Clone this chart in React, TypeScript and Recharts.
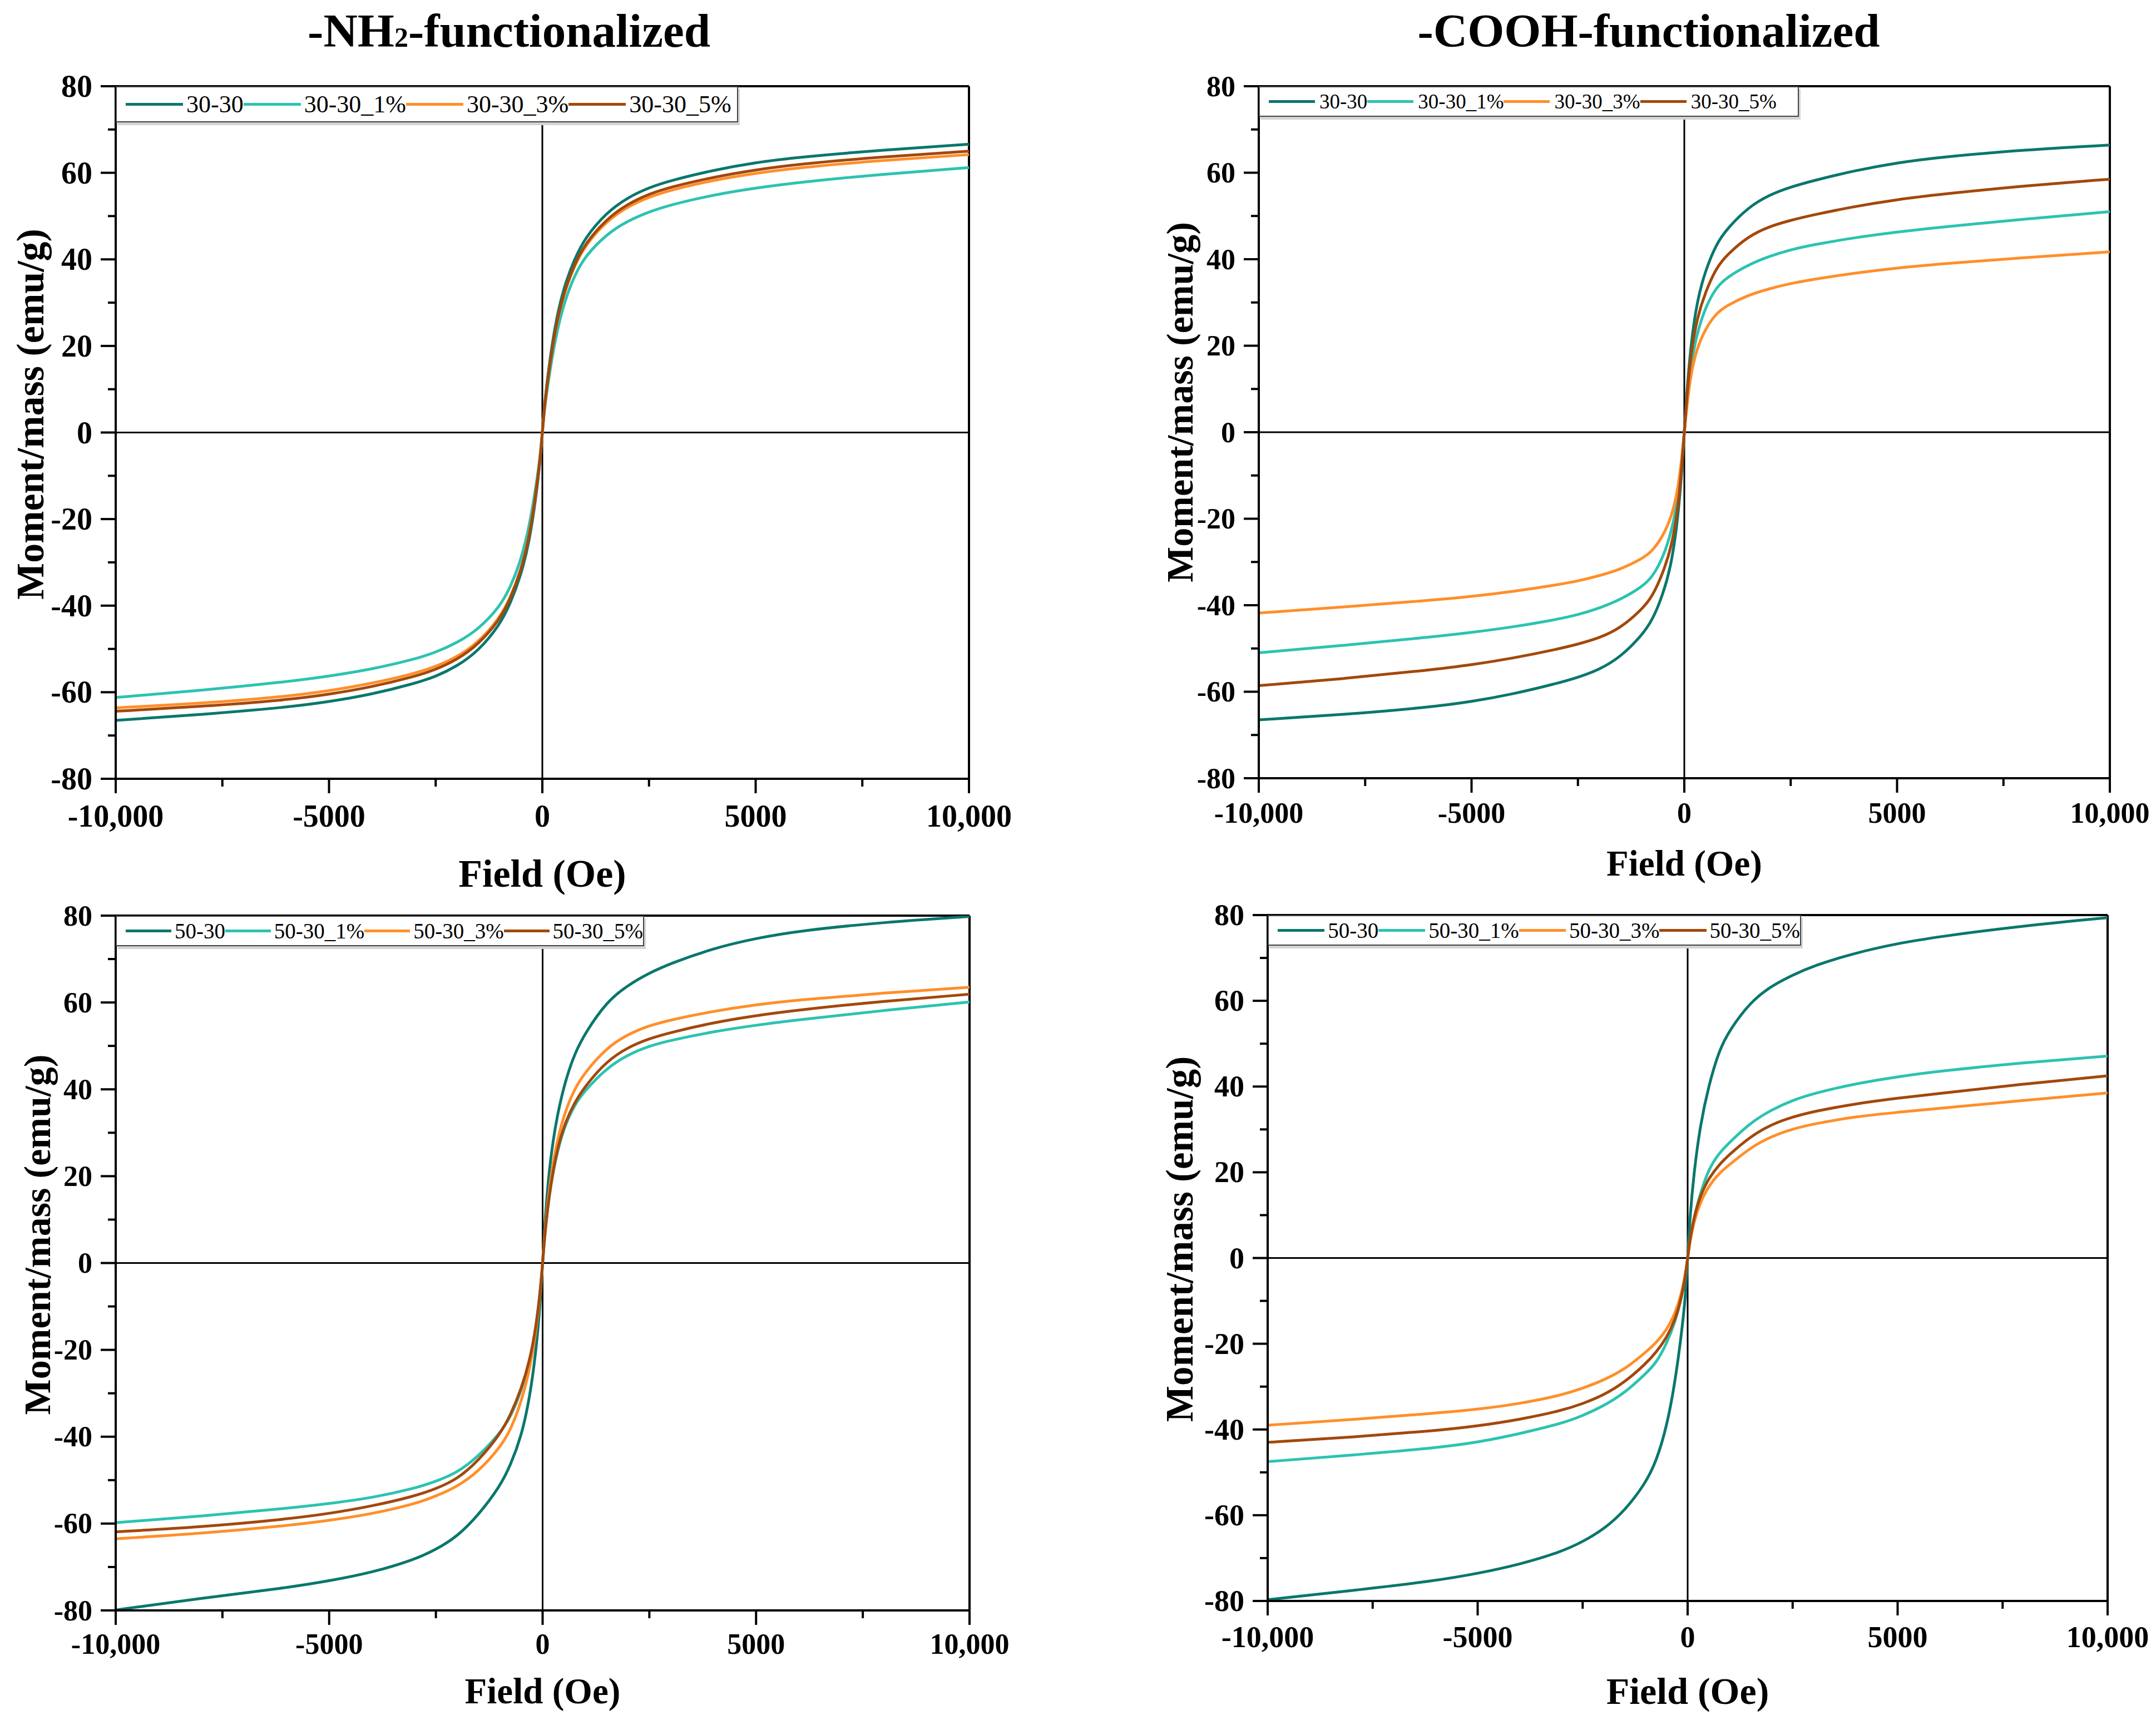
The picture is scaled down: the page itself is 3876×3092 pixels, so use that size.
// Four M(H) magnetisation loops (NH2 / COOH functionalised, 30-30 and 50-30
// series), laid out as a 2x2 grid like the original figure.

import React from "react";
import { Line, LineChart, ReferenceLine, XAxis, YAxis } from "recharts";

const SERIF = '"Liberation Serif", "Times New Roman", serif';

// Applied field (Oe), shared by every curve.
const FIELD = [
  -10000, -8000, -6000, -5000, -4000, -3000, -2500, -2000, -1500, -1000, -750,
  -500, -300, -150, -50, 0, 50, 150, 300, 500, 750, 1000, 1500, 2000, 2500,
  3000, 4000, 5000, 6000, 8000, 10000,
];

const X_TICKS = [-10000, -7500, -5000, -2500, 0, 2500, 5000, 7500, 10000];
const X_LABELED = [-10000, -5000, 0, 5000, 10000];
const X_LABELS = ["-10,000", "-5000", "0", "5000", "10,000"];
const Y_TICKS = [-80, -70, -60, -50, -40, -30, -20, -10, 0, 10, 20, 30, 40, 50, 60, 70, 80];
const Y_LABELED = [-80, -60, -40, -20, 0, 20, 40, 60, 80];

const NAMES_30 = ["30-30", "30-30_1%", "30-30_3%", "30-30_5%"];
const NAMES_50 = ["50-30", "50-30_1%", "50-30_3%", "50-30_5%"];
const COLORS = ["#0a776c", "#2cc3b0", "#ff8f2a", "#a3480c"];

// -NH2-functionalized, 30-30 family
const NH2_30_30 = [-66.5, -65.2, -63.5, -62.2, -60.5, -58, -56.4, -54, -50.5, -44.5, -39.5, -33, -25, -15, -6.5, 0, 6.5, 15, 25, 33.5, 40, 45, 50.8, 54.3, 56.6, 58.2, 60.6, 62.4, 63.6, 65.3, 66.6];
const NH2_30_1 = [-61.2, -59.6, -57.6, -56.3, -54.7, -52.4, -50.8, -48.6, -45.5, -40.3, -35.8, -29.5, -21.5, -12.5, -5.5, 0, 5.5, 12.5, 21.5, 29.8, 36.2, 40.7, 45.8, 48.9, 51, 52.6, 54.9, 56.5, 57.8, 59.7, 61.2];
const NH2_30_3 = [-63.6, -62.6, -61, -59.7, -58, -55.7, -54.1, -51.9, -48.5, -42.9, -38.2, -31.8, -23.8, -14, -6, 0, 6, 14, 23.8, 32, 38.5, 43.2, 48.8, 52.2, 54.4, 56, 58.3, 59.9, 61.2, 62.9, 64.2];
const NH2_30_5 = [-64.4, -63.3, -61.8, -60.5, -58.8, -56.4, -54.8, -52.5, -49, -43.3, -38.5, -32, -24, -14, -6, 0, 6, 14, 24, 32.3, 38.8, 43.6, 49.3, 52.8, 55.1, 56.7, 59, 60.7, 62, 63.7, 65];

// -COOH-functionalized, 30-30 family
const COOH_30_30 = [-66.5, -65.3, -63.6, -62.3, -60.5, -58.1, -56.7, -54.9, -52, -47, -43.5, -37.5, -30.5, -20, -8, 0, 8, 20, 30.5, 37.5, 43.5, 47, 52, 54.9, 56.7, 58.1, 60.5, 62.3, 63.6, 65.3, 66.4];
const COOH_30_1 = [-51, -49.3, -47.4, -46.3, -45, -43.3, -42.2, -40.7, -38.7, -35.8, -33.5, -29, -23, -15.5, -6, 0, 6, 15.5, 23, 29, 33.5, 35.8, 38.7, 40.7, 42.2, 43.3, 45, 46.3, 47.4, 49.3, 51];
const COOH_30_3 = [-41.8, -40.4, -38.9, -38, -36.8, -35.3, -34.4, -33.2, -31.7, -29.3, -27.5, -24, -19.5, -13.5, -5, 0, 5, 13.5, 19.5, 24, 27.5, 29.3, 31.7, 33.2, 34.4, 35.3, 36.8, 38, 38.9, 40.4, 41.7];
const COOH_30_5 = [-58.6, -57, -55, -53.8, -52.2, -50.2, -49, -47.6, -45.3, -41, -38, -32.5, -26.5, -18, -7, 0, 7, 18, 26.5, 32.5, 38, 41, 45.3, 47.6, 49, 50.2, 52.2, 53.8, 55, 57, 58.5];

// -NH2-functionalized, 50-30 family
const NH2_50_30 = [-79.9, -77.2, -74.8, -73.2, -71.3, -68.3, -66, -63, -58, -51.5, -46.5, -40, -31, -20, -8.5, 0, 9, 21.5, 32, 41, 48.3, 53, 60.2, 64, 66.8, 69, 72.5, 74.8, 76.5, 78.5, 79.8];
const NH2_50_1 = [-59.8, -58.3, -56.5, -55.4, -54.1, -51.9, -50.3, -48.3, -44.5, -39.2, -35.5, -29.5, -22.5, -14.5, -6, 0, 6.5, 15.5, 24, 31.2, 36.5, 39.8, 44.9, 48, 50, 51.3, 53.3, 54.8, 56, 58.2, 60.1];
const NH2_50_3 = [-63.5, -62.3, -60.5, -59.3, -57.8, -55.5, -53.7, -51.5, -48, -42.5, -38.5, -32, -24.5, -15.5, -6.5, 0, 7, 17, 26.5, 34.3, 40.2, 44, 49.6, 52.7, 54.7, 56, 58, 59.5, 60.6, 62.2, 63.5];
const NH2_50_5 = [-61.9, -60.8, -59, -57.7, -56, -53.7, -52, -49.8, -45.5, -39.5, -35, -29, -22.5, -14.5, -6, 0, 6.5, 15.5, 24.5, 31.8, 37, 40.8, 46.5, 49.7, 51.7, 53.1, 55.4, 57, 58.3, 60.3, 61.9];

// -COOH-functionalized, 50-30 family
const COOH_50_30 = [-79.7, -77.6, -75.3, -73.6, -71.5, -68.5, -66.2, -63.3, -59, -52.5, -47.5, -39.5, -29, -18, -9, 0, 9, 20, 31, 40.2, 48.5, 53.2, 59.8, 63.5, 66, 68.2, 71.2, 73.4, 75, 77.5, 79.4];
const COOH_50_1 = [-47.5, -46, -44.3, -43, -41, -38.6, -36.8, -34.5, -31.5, -27, -24.5, -20, -15, -9.5, -4, 0, 4, 9.5, 15, 20.8, 24.5, 27, 31.6, 34.6, 36.8, 38.4, 40.7, 42.3, 43.6, 45.6, 47.1];
const COOH_50_3 = [-39, -37.7, -36.2, -35.3, -34, -32, -30.4, -28.5, -26, -22, -19.8, -16.8, -13, -8.5, -3.5, 0, 3.5, 8.5, 13, 16.8, 19.8, 21.8, 25.8, 28.4, 30.1, 31.3, 33, 34, 34.9, 36.8, 38.5];
const COOH_50_5 = [-43, -41.8, -40.3, -39.2, -37.7, -35.6, -34, -32, -29, -24.7, -22, -18.6, -14.5, -9.5, -4, 0, 4, 9.5, 14.5, 18.6, 21.8, 24.2, 28.4, 31.2, 32.9, 34.2, 36, 37.3, 38.4, 40.6, 42.5];

interface PanelSpec {
  plot: { l: number; t: number; r: number; b: number };
  names: string[];
  series: number[][];
  padR: number;
  tickFont: number;
  xTickDy: number;
  yTitleX: number;
  yTitleDy: number;
  yTitleFont: number;
  xTitleDy: number;
  xTitleFont: number;
  legend: { w: number; h: number; font: number; lineW: number; pad: number; gap: number };
}

const PANELS: PanelSpec[] = [
  {
    plot: { l: 208, t: 155, r: 1742, b: 1400 },
    names: NAMES_30,
    series: [NH2_30_30, NH2_30_1, NH2_30_3, NH2_30_5],
    padR: 110, tickFont: 56, xTickDy: 67,
    yTitleX: 54, yTitleDy: -33, yTitleFont: 70, xTitleDy: 170, xTitleFont: 70,
    legend: { w: 1119, h: 65, font: 44, lineW: 103, pad: 16, gap: 6 },
  },
  {
    plot: { l: 2263, t: 155, r: 3793, b: 1399 },
    names: NAMES_30,
    series: [COOH_30_30, COOH_30_1, COOH_30_3, COOH_30_5],
    padR: 80, tickFont: 52, xTickDy: 62,
    yTitleX: 2121, yTitleDy: -54, yTitleFont: 68, xTitleDy: 153, xTitleFont: 65,
    legend: { w: 971, h: 55, font: 37, lineW: 83, pad: 16, gap: 8 },
  },
  {
    plot: { l: 208, t: 1646, r: 1743, b: 2895 },
    names: NAMES_50,
    series: [NH2_50_30, NH2_50_1, NH2_50_3, NH2_50_5],
    padR: 110, tickFont: 52, xTickDy: 60,
    yTitleX: 67, yTitleDy: -51, yTitleFont: 68, xTitleDy: 145, xTitleFont: 65,
    legend: { w: 950, h: 55, font: 39, lineW: 85, pad: 16, gap: 6 },
  },
  {
    plot: { l: 2279, t: 1645, r: 3789, b: 2878 },
    names: NAMES_50,
    series: [COOH_50_30, COOH_50_1, COOH_50_3, COOH_50_5],
    padR: 80, tickFont: 54, xTickDy: 65,
    yTitleX: 2121, yTitleDy: -34, yTitleFont: 69, xTitleDy: 162, xTitleFont: 68,
    legend: { w: 959, h: 55, font: 39, lineW: 85, pad: 16, gap: 6 },
  },
];

const PAD_L = 200;
const PAD_T = 60;
const X_AXIS_H = 230;

function Panel({ spec }: { spec: PanelSpec }) {
  const { plot, names, series, legend } = spec;
  const w = plot.r - plot.l + PAD_L + spec.padR;
  const h = plot.b - plot.t + PAD_T + X_AXIS_H;
  const rows = FIELD.map((f, i) => {
    const row: Record<string, number> = { h: f };
    series.forEach((s, k) => (row[`s${k}`] = s[i]));
    return row;
  });

  const xTick = (p: any) => {
    const v = p.payload.value as number;
    const li = X_LABELED.indexOf(v);
    return (
      <g>
        <line x1={p.x} x2={p.x} y1={p.y} y2={p.y + (li >= 0 ? 26 : 14)} stroke="#000" strokeWidth={4} />
        {li >= 0 && (
          <text x={p.x} y={p.y + spec.xTickDy} textAnchor="middle" dominantBaseline="central"
            fontFamily={SERIF} fontWeight="bold" fontSize={spec.tickFont} fill="#000">
            {X_LABELS[li]}
          </text>
        )}
      </g>
    );
  };

  const yTick = (p: any) => {
    const v = p.payload.value as number;
    const major = Y_LABELED.includes(v);
    return (
      <g>
        <line x1={p.x} x2={p.x - (major ? 27 : 14)} y1={p.y} y2={p.y} stroke="#000" strokeWidth={4} />
        {major && (
          <text x={p.x - 42} y={p.y} textAnchor="end" dominantBaseline="central"
            fontFamily={SERIF} fontWeight="bold" fontSize={spec.tickFont} fill="#000">
            {String(v)}
          </text>
        )}
      </g>
    );
  };

  const xTitle = (p: any) => {
    const vb = p.viewBox;
    return (
      <text x={vb.x + vb.width / 2} y={vb.y + spec.xTitleDy} textAnchor="middle" dominantBaseline="central"
        fontFamily={SERIF} fontWeight="bold" fontSize={spec.xTitleFont} fill="#000">
        Field (Oe)
      </text>
    );
  };

  const yTitle = (p: any) => {
    const vb = p.viewBox;
    const cx = vb.x + vb.width - (plot.l - spec.yTitleX);
    const cy = vb.y + vb.height / 2 + spec.yTitleDy;
    return (
      <text x={cx} y={cy} transform={`rotate(-90 ${cx} ${cy})`} textAnchor="middle" dominantBaseline="central"
        fontFamily={SERIF} fontWeight="bold" fontSize={spec.yTitleFont} fill="#000">
        Moment/mass (emu/g)
      </text>
    );
  };

  return (
    <div style={{ position: "absolute", left: plot.l - PAD_L, top: plot.t - PAD_T, width: w, height: h }}>
      <LineChart width={w} height={h} data={rows} margin={{ top: PAD_T, right: spec.padR, bottom: 0, left: 0 }}>
        <XAxis dataKey="h" type="number" domain={[-10000, 10000]} ticks={X_TICKS} interval={0}
          allowDataOverflow tickSize={0} tickMargin={0} tickLine={false} tick={xTick}
          axisLine={{ stroke: "#000", strokeWidth: 4 }} height={X_AXIS_H} label={xTitle} />
        <YAxis type="number" domain={[-80, 80]} ticks={Y_TICKS} interval={0} allowDataOverflow
          tickSize={0} tickMargin={0} tickLine={false} tick={yTick}
          axisLine={{ stroke: "#000", strokeWidth: 4 }} width={PAD_L} label={yTitle} />
        <ReferenceLine y={80} stroke="#000" strokeWidth={4} />
        <ReferenceLine x={10000} stroke="#000" strokeWidth={4} />
        <ReferenceLine y={0} stroke="#000" strokeWidth={3} />
        <ReferenceLine x={0} stroke="#000" strokeWidth={3} />
        {names.map((n, k) => (
          <Line key={n} type="basis" dataKey={`s${k}`} name={n} stroke={COLORS[k]}
            strokeWidth={5} dot={false} isAnimationActive={false} />
        ))}
      </LineChart>
      <div
        style={{
          position: "absolute", left: PAD_L, top: PAD_T, width: legend.w, height: legend.h,
          boxSizing: "border-box", background: "#fff", border: "2px solid #444",
          boxShadow: "3px 5px 0 #d4d4d4", display: "flex", alignItems: "center",
          paddingLeft: legend.pad, fontFamily: SERIF, fontSize: legend.font, color: "#000", zIndex: 2,
        }}
      >
        {names.map((n, k) => (
          <React.Fragment key={n}>
            <span style={{ display: "inline-block", width: legend.lineW, height: 5, background: COLORS[k], marginRight: legend.gap }} />
            <span style={{ whiteSpace: "nowrap" }}>{n}</span>
          </React.Fragment>
        ))}
      </div>
    </div>
  );
}

const titleStyle: React.CSSProperties = {
  position: "absolute", top: 55, transform: "translate(-50%, -50%)", whiteSpace: "nowrap",
  fontFamily: SERIF, fontWeight: "bold", fontSize: 85, color: "#000", lineHeight: 1,
};

export default function App() {
  return (
    <div style={{ position: "absolute", left: 0, top: 0, width: 3876, height: 3092, overflow: "hidden", background: "#fff" }}>
      <div style={{ ...titleStyle, left: 915 }}>
        -NH<span style={{ fontSize: 50 }}>2</span>-functionalized
      </div>
      <div style={{ ...titleStyle, left: 2964 }}>-COOH-functionalized</div>
      {PANELS.map((p, i) => (
        <Panel key={i} spec={p} />
      ))}
    </div>
  );
}
